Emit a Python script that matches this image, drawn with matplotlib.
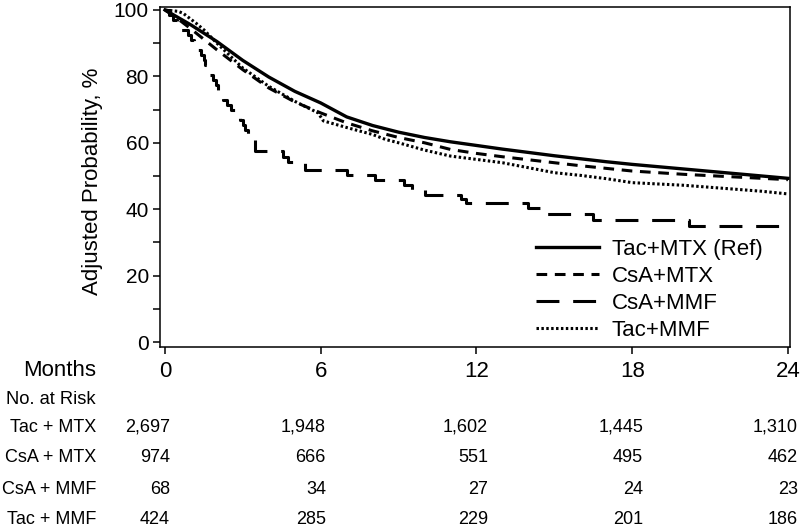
import matplotlib
matplotlib.use('Agg')
import matplotlib.pyplot as plt

plt.rcParams['font.family'] = ['Liberation Sans', 'DejaVu Sans']

# ---------------- data ----------------
month_ticks = [0, 6, 12, 18, 24]
y_ticks = [0, 20, 40, 60, 80, 100]
y_minor = [10, 30, 50, 70, 90]

tac_mtx_t = [0, 1, 2, 3, 4, 5, 6, 7, 8, 9, 10, 11, 12, 13, 14, 15, 16, 17, 18, 19, 20, 21, 22, 23, 24]
tac_mtx_v = [100, 95.5, 90.5, 84.8, 79.8, 75.5, 72.0, 67.8, 65.2, 63.2, 61.6, 60.3, 59.2, 58.1, 57.1,
             56.1, 55.2, 54.3, 53.5, 52.8, 52.1, 51.4, 50.7, 50.0, 49.3]

csa_mtx_t = [0, 0.5, 1, 2, 3, 4, 5, 6, 7, 8, 9, 10, 11, 12, 13, 14, 15, 16, 17, 18, 19, 20, 21, 22, 23, 24]
csa_mtx_v = [100, 97.3, 94.3, 88.0, 82.0, 76.5, 72.3, 69.0, 66.0, 63.6, 61.6, 60.0, 58.0, 56.8, 55.8,
             54.9, 54.0, 53.1, 52.3, 51.5, 51.0, 50.5, 50.1, 49.7, 49.3, 48.9]

tac_mmf_t = [0, 0.5, 0.7, 1.2, 1.5, 2, 3, 4, 5, 5.9, 6.1, 7, 8, 8.5, 9, 10, 11, 12, 13, 14, 15, 16, 17,
             18, 19, 20, 21, 22, 23, 24]
tac_mmf_v = [100, 99.6, 99.0, 96.0, 94.0, 90.0, 82.5, 77.0, 72.5, 69.0, 66.6, 64.6, 62.5, 61.0, 60.0,
             57.8, 56.0, 55.0, 54.0, 52.5, 51.0, 50.2, 49.2, 48.0, 47.6, 47.2, 46.6, 46.0, 45.4, 44.6]

csa_mmf_t = [0, 0.15, 0.3, 0.45, 0.55, 0.9, 1.0, 1.1, 1.2, 1.4, 1.5, 1.55, 1.65, 1.75, 1.85, 1.95, 2.05,
             2.15, 2.25, 2.4, 2.55, 2.7, 2.9, 3.0, 3.1, 3.2, 3.3, 3.45, 4.55, 4.75, 5.4, 7.0, 8.1, 9.2,
             9.5, 10.0, 11.4, 11.6, 14.0, 14.5, 16.5, 20.2, 24]
csa_mmf_v = [100, 98.5, 97.0, 95.5, 94.0, 92.5, 91.0, 89.5, 88.0, 86.5, 85.0, 83.5, 82.0, 80.5, 79.0,
             77.5, 76.0, 74.5, 73.0, 71.5, 70.0, 68.5, 67.0, 65.5, 64.0, 62.5, 61.0, 57.5, 55.8, 54.2,
             51.8, 50.3, 48.8, 47.3, 45.8, 44.3, 43.0, 41.8, 40.3, 38.5, 36.8, 35.0, 35.0]

series_labels = ['Tac+MTX (Ref)', 'CsA+MTX', 'CsA+MMF', 'Tac+MMF']

risk_rows = ['Tac + MTX', 'CsA + MTX', 'CsA + MMF', 'Tac + MMF']
risk_tac_mtx = ['2,697', '1,948', '1,602', '1,445', '1,310']
risk_csa_mtx = ['974', '666', '551', '495', '462']
risk_csa_mmf = ['68', '34', '27', '24', '23']
risk_tac_mmf = ['424', '285', '229', '201', '186']

# ---------------- figure ----------------
W, H = 800, 527
fig = plt.figure(figsize=(8, 5.27), dpi=100)
ax = fig.add_axes([160 / W, 1 - 347 / H, 630 / W, 340 / H])

ax.plot(tac_mtx_t, tac_mtx_v, color='black', lw=2.4, ls='-', label=series_labels[0],
        solid_joinstyle='round')
ax.plot(csa_mtx_t, csa_mtx_v, color='black', lw=2.2, ls=(0, (3.5, 2.5)), label=series_labels[1])
ax.plot(csa_mmf_t, csa_mmf_v, color='black', lw=2.2, ls=(0, (7.5, 4.5)), drawstyle='steps-post',
        label=series_labels[2])
ax.plot(tac_mmf_t, tac_mmf_v, color='black', lw=2.2, ls=(0, (0.8, 0.8)), label=series_labels[3])

ax.set_xlim(-0.193, 24.08)
ax.set_ylim(-1.5, 100.9)

ax.set_xticks(month_ticks)
ax.set_xticklabels([str(m) for m in month_ticks], fontsize=16)
ax.set_yticks(y_ticks)
ax.set_yticklabels([str(v) for v in y_ticks], fontsize=15)
ax.set_yticks(y_minor, minor=True)
ax.tick_params(axis='both', which='both', direction='out', length=5, width=1.1, color='black')
ax.tick_params(axis='x', pad=5)
ax.tick_params(axis='y', pad=3)
for s in ax.spines.values():
    s.set_linewidth(1.1)
    s.set_color('black')

ax.set_ylabel('Adjusted Probability, %', fontsize=16)
ax.yaxis.set_label_coords(-0.09, 0.486)

leg = ax.legend(loc='lower right', bbox_to_anchor=(0.966, 0.0), frameon=False, fontsize=16,
                handlelength=2.85, handletextpad=0.55, labelspacing=0.27, borderaxespad=0.08,
                borderpad=0.2)

# Months label and risk table
def fx(px):
    return px / W

def fy(py):
    return 1 - py / H

fig.text(fx(96), fy(370), 'Months', fontsize=16, ha='right', va='center')
fig.text(fx(96), fy(399), 'No. at Risk', fontsize=13.2, ha='right', va='center')

row_y = [427, 458, 489, 520]
col_right = [170, 326, 488, 643, 798]
risk_data = [risk_tac_mtx, risk_csa_mtx, risk_csa_mmf, risk_tac_mmf]
for name, vals, ry in zip(risk_rows, risk_data, row_y):
    fig.text(fx(96), fy(ry), name, fontsize=13, ha='right', va='center')
    for v, cx in zip(vals, col_right):
        fig.text(fx(cx), fy(ry), v, fontsize=13, ha='right', va='center')

fig.savefig('out.png', dpi=100)
